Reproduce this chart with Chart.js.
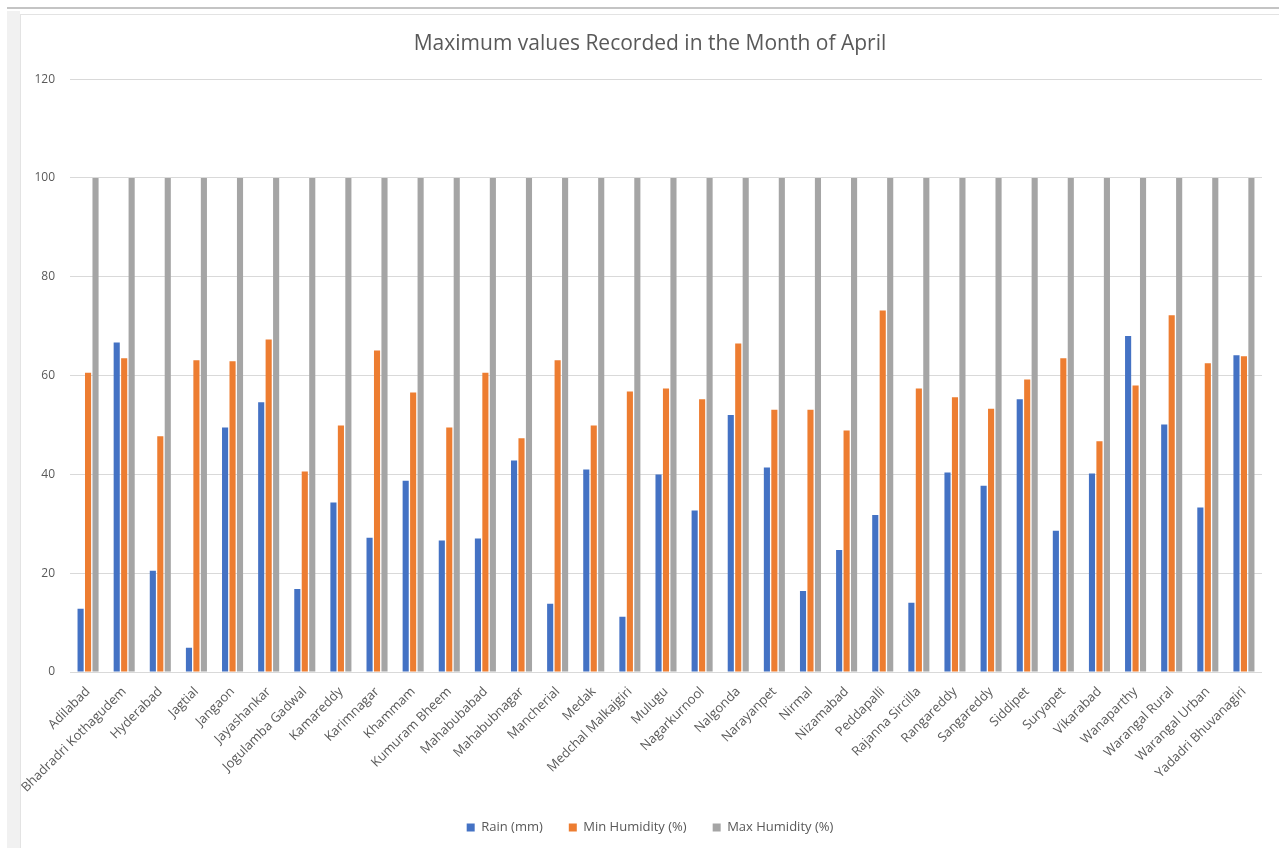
<!DOCTYPE html>
<html>
<head>
<meta charset="utf-8">
<script src="https://cdn.jsdelivr.net/npm/chart.js@4.4.1/dist/chart.umd.min.js"></script>
<style>
  html, body { margin: 0; padding: 0; background: #ffffff; }
  body { width: 1279px; height: 848px; position: relative; overflow: hidden; }
  #topRule { position: absolute; left: 7px; top: 7px; width: 1272px; height: 2px; background: #c4c4c4; }
  #sideStrip { position: absolute; left: 7px; top: 11px; width: 13px; height: 837px; background: #f1f1f1; }
  #frame { position: absolute; left: 20px; top: 14px; width: 1259px; height: 834px;
           border-left: 1px solid #e3e3e3; border-top: 1px solid #e3e3e3; box-sizing: border-box; }
  #wrap { position: absolute; left: 21px; top: 15px; width: 1258px; height: 833px; }
</style>
</head>
<body>
<div id="topRule"></div>
<div id="sideStrip"></div>
<div id="frame"></div>
<div id="wrap"><canvas id="chart"></canvas></div>
<script>
// Districts of Telangana
const districts = [
  "Adilabad", "Bhadradri Kothagudem", "Hyderabad", "Jagtial", "Jangaon",
  "Jayashankar", "Jogulamba Gadwal", "Kamareddy", "Karimnagar", "Khammam",
  "Kumuram Bheem", "Mahabubabad", "Mahabubnagar", "Mancherial", "Medak",
  "Medchal Malkajgiri", "Mulugu", "Nagarkurnool", "Nalgonda", "Narayanpet",
  "Nirmal", "Nizamabad", "Peddapalli", "Rajanna Sircilla", "Rangareddy",
  "Sangareddy", "Siddipet", "Suryapet", "Vikarabad", "Wanaparthy",
  "Warangal Rural", "Warangal Urban", "Yadadri Bhuvanagiri"
];

// Maximum rain (mm) recorded in April
const rainMm = [
  12.8, 66.7, 20.5, 4.9, 49.5, 54.6, 16.8, 34.3, 27.2, 38.7,
  26.6, 27.0, 42.8, 13.8, 41.0, 11.2, 40.0, 32.7, 52.0, 41.4,
  16.4, 24.7, 31.8, 14.0, 40.4, 37.7, 55.2, 28.6, 40.2, 68.0,
  50.1, 33.3, 64.1
];

// Minimum humidity (%) recorded in April
const minHumidity = [
  60.6, 63.5, 47.7, 63.1, 62.9, 67.3, 40.6, 49.9, 65.1, 56.6,
  49.5, 60.6, 47.3, 63.1, 49.9, 56.8, 57.4, 55.2, 66.5, 53.1,
  53.1, 48.9, 73.2, 57.4, 55.6, 53.3, 59.2, 63.5, 46.7, 58.0,
  72.2, 62.5, 63.9
];

// Maximum humidity (%) recorded in April
const maxHumidity = [
  100, 100, 100, 100, 100, 100, 100, 100, 100, 100,
  100, 100, 100, 100, 100, 100, 100, 100, 100, 100,
  100, 100, 100, 100, 100, 100, 100, 100, 100, 100,
  100, 100, 100
];

const yTicks = [0, 20, 40, 60, 80, 100, 120];

const FONT = "'Open Sans', 'Noto Sans', sans-serif";
const TEXT = "#595959";

new Chart(document.getElementById("chart"), {
  type: "bar",
  data: {
    labels: districts,
    datasets: [
      { label: "Rain (mm)", data: rainMm, backgroundColor: "#4472C4" },
      { label: "Min Humidity (%)", data: minHumidity, backgroundColor: "#ED7D31" },
      { label: "Max Humidity (%)", data: maxHumidity, backgroundColor: "#A5A5A5" }
    ]
  },
  options: {
    responsive: true,
    maintainAspectRatio: false,
    animation: false,
    datasets: { bar: { categoryPercentage: 0.62, barPercentage: 0.82 } },
    layout: { padding: { left: 0, right: 0, top: 0, bottom: 4 } },
    plugins: {
      title: {
        display: true,
        text: "Maximum values Recorded in the Month of April",
        color: TEXT,
        font: { family: FONT, size: 21, weight: "normal" },
        padding: { top: 16, bottom: 23 }
      },
      legend: {
        position: "bottom",
        labels: {
          color: TEXT,
          font: { family: FONT, size: 13 },
          boxWidth: 8,
          boxHeight: 8,
          padding: 26
        }
      },
      tooltip: { enabled: false }
    },
    scales: {
      x: {
        grid: { display: false },
        border: { display: false },
        ticks: {
          color: TEXT,
          font: { family: FONT, size: 13 },
          minRotation: 45,
          maxRotation: 45,
          autoSkip: false,
          padding: 4
        },
        afterFit: (s) => { s.height = 123; }
      },
      y: {
        min: 0,
        max: 120,
        afterBuildTicks: (s) => { s.ticks = yTicks.map(v => ({ value: v })); },
        grid: { color: "#d9d9d9", drawTicks: false, lineWidth: 1 },
        border: { display: false },
        ticks: {
          color: TEXT,
          font: { family: FONT, size: 12 },
          padding: 15
        },
        afterFit: (s) => { s.width = 49; }
      },
      // empty right-hand margin so the plot stops short of the edge
      gutter: {
        type: "linear",
        position: "right",
        min: 0,
        max: 120,
        grid: { display: false, drawTicks: false },
        border: { display: false },
        ticks: { display: false },
        afterFit: (s) => { s.width = 17; }
      }
    }
  }
});
</script>
</body>
</html>
